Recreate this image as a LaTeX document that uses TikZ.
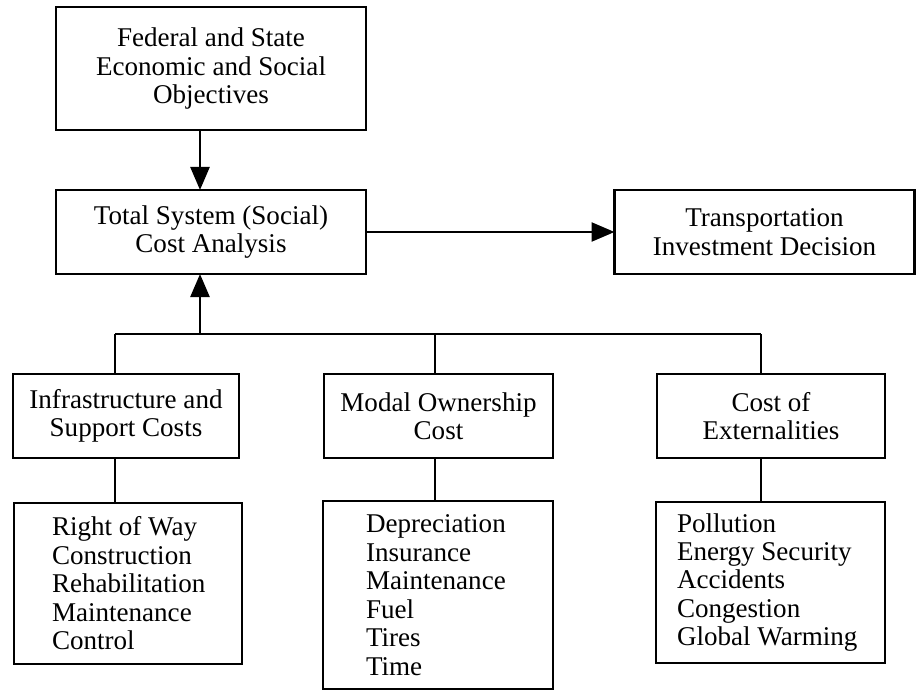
\documentclass[tikz,border=0pt]{standalone}
\usepackage{fontspec}
\setmainfont{Liberation Serif}
\usepackage{tikz}
\usetikzlibrary{arrows.meta}
\usetikzlibrary{positioning}
\newcommand*{\boxfont}{\fontsize{15.4}{16.2}\selectfont}
\tikzstyle{base}=[inner sep=0pt, outer sep=0pt]
\tikzstyle{block}=[draw, line width=1.6pt, rectangle, align=center, font=\boxfont]
\tikzstyle{listblock}=[block, align=flush left]
\tikzstyle{link}=[line width=1.4pt]
\tikzstyle{flow}=[link, -{Triangle[length=0.46cm, width=0.38cm]}]

\begin{document}
\begin{tikzpicture}[base]
    \path [use as bounding box] (0,0) rectangle (18.34,13.82);
    % upper row
    \node [block, minimum width=6.2cm, minimum height=2.46cm] (fedobj) at (4.22,12.45)
        {Federal and State\\Economic and Social\\Objectives};
    \node [block, minimum width=6.2cm, minimum height=1.68cm] (total) at (4.22,9.18)
        {Total System (Social)\\Cost Analysis};
    \node [block, minimum width=6.0cm, minimum height=1.68cm] (decision) at (15.29,9.18)
        {Transportation\\Investment Decision};
    % cost groups
    \node [block, minimum width=4.52cm, minimum height=1.68cm] (infra) at (2.52,5.5)
        {Infrastructure and\\Support Costs};
    \node [block, minimum width=4.58cm, minimum height=1.68cm] (modal) at (8.77,5.5)
        {Modal Ownership\\Cost};
    \node [block, minimum width=4.56cm, minimum height=1.68cm] (extern) at (15.42,5.5)
        {Cost of\\Externalities};
    % cost items
    \node [listblock, text width=3.04cm, minimum width=4.56cm, minimum height=3.22cm] (row) at (2.56,2.15)
        {Right of Way\\Construction\\Rehabilitation\\Maintenance\\Control};
    \node [listblock, text width=2.88cm, minimum width=4.6cm, minimum height=3.76cm] (dep) at (8.76,1.92)
        {Depreciation\\Insurance\\Maintenance\\Fuel\\Tires\\Time};
    \node [listblock, text width=3.74cm, minimum width=4.58cm, minimum height=3.22cm] (pol) at (15.41,2.17)
        {Pollution\\Energy Security\\Accidents\\Congestion\\Global Warming};
    % bus
    \coordinate (hub) at (4.0,7.14);
    \coordinate (b1) at (2.3,7.14);
    \coordinate (b2) at (8.7,7.14);
    \coordinate (b3) at (15.22,7.14);
    \draw [flow] (fedobj.south -| hub) -- (total.north -| hub);
    \draw [flow] (hub) -- (total.south -| hub);
    \draw [flow] (total.east) -- (decision.west);
    \draw [link] (b1) -- (b3);
    \draw [link] (b1) -- (infra.north -| b1);
    \draw [link] (b2) -- (modal.north -| b2);
    \draw [link] (b3) -- (extern.north -| b3);
    \draw [link] (infra.south -| b1) -- (row.north -| b1);
    \draw [link] (modal.south -| b2) -- (dep.north -| b2);
    \draw [link] (extern.south -| b3) -- (pol.north -| b3);
\end{tikzpicture}
\end{document}
